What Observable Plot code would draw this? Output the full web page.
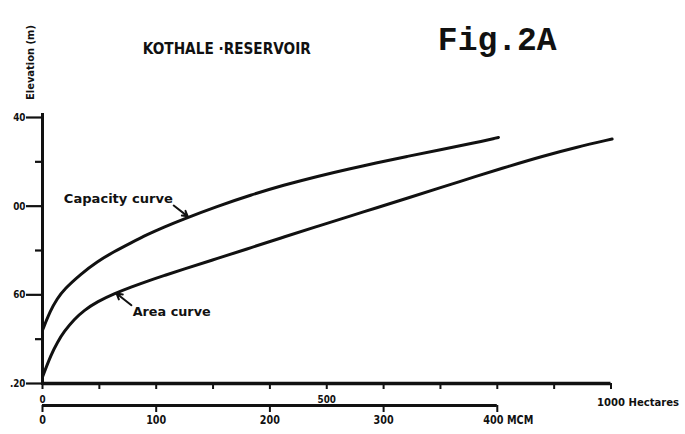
<!DOCTYPE html>
<html><head><meta charset="utf-8">
<script src="https://cdn.jsdelivr.net/npm/d3@7"></script>
<script src="https://cdn.jsdelivr.net/npm/@observablehq/plot@0.6"></script>
<style>
html,body{margin:0;padding:0;background:#fff;}
#chart svg{display:block;}
</style></head><body><div id="chart"></div>
<script>
// Capacity curve: storage (MCM) vs elevation (m)
const capacityMCM  = [0, 7, 13, 19, 34, 48, 63, 78, 92, 107, 122, 154, 183, 212, 242, 271, 292, 321, 350, 379, 401];
const capacityElev = [44, 53, 58.3, 62.5, 69.5, 75, 79.5, 83.5, 87.2, 90.6, 93.8, 100, 105, 109.5, 113.5, 117, 119.3, 122.5, 125.5, 128.4, 131];
// Area curve: surface area (hectares) vs elevation (m)
const areaHa   = [0, 15, 26, 38, 56, 73, 97, 126, 156, 185, 215, 244, 309, 367, 426, 485, 544, 585, 644, 703, 761, 820, 879, 938, 1002];
const areaElev = [23, 33, 38.5, 43.5, 49, 53, 57, 60.5, 63.5, 66.2, 68.8, 71.2, 76.5, 81.3, 86.2, 91, 95.8, 99, 103.8, 108.6, 113.3, 118, 122.5, 126.5, 130.3];

const yTicks = [20, 40, 60, 80, 100, 120, 140];
const yTickLabels = [".20", "", "60", "", "00", "", "40"];
const haTicks = [0, 100, 200, 300, 400, 500, 600, 700, 800, 900, 1000];
const haTickLabels = ["0", "", "", "", "", "500", "", "", "", "", "1000"];
const mcmTicks = [0, 100, 200, 300, 400];
const mcmTickLabels = ["0", "100", "200", "300", "400"];

const titleText = "KOTHALE ·RESERVOIR";
const figText = "Fig.2A";
const yLabelText = "Elevation (m)";
const haUnit = "Hectares";
const mcmUnit = "MCM";
const capLabel = "Capacity curve";
const areaLabel = "Area curve";

// 1000 hectares span the same length as 500 MCM on the drawing
const HA_PER_UNIT = 2;

const ink = "#111";
const font = "'DejaVu Sans',sans-serif";

const cap = capacityMCM.map((x, i) => ({x, y: capacityElev[i]}));
const area = areaHa.map((h, i) => ({x: h / HA_PER_UNIT, y: areaElev[i]}));
const yMajor = yTicks.filter((d, i) => yTickLabels[i]);
const yMinor = yTicks.filter((d, i) => !yTickLabels[i]);
const yLab = yTicks.map((v, i) => ({v, t: yTickLabels[i]})).filter(d => d.t);
const haLast = haTicks.length - 1;
const haLab = haTicks.map((v, i) => ({v: v / HA_PER_UNIT, t: haTickLabels[i]})).filter((d, i) => d.t && i !== haLast);
const mcmLast = mcmTicks.length - 1;
const mcmLab = mcmTicks.map((v, i) => ({v, t: mcmTickLabels[i]})).slice(0, mcmLast);

const chart = Plot.plot({
  width: 685, height: 434,
  marginLeft: 42, marginRight: 74.5, marginTop: 117, marginBottom: 51,
  x: {domain: [0, 500], axis: null},
  y: {domain: [20, 140], axis: null},
  style: {background: "#fff", color: ink, fontFamily: font, fontWeight: "bold", overflow: "visible"},
  marks: [
    // y axis
    Plot.ruleX([0], {y1: 140, y2: 20, stroke: ink, strokeWidth: 3, insetTop: -4, insetBottom: -2}),
    Plot.ruleY(yMajor, {y: d => d, x1: 0, x2: 0, insetLeft: -16, stroke: ink, strokeWidth: 2.2}),
    Plot.ruleY(yMinor, {y: d => d, x1: 0, x2: 0, insetLeft: -7, stroke: ink, strokeWidth: 2.2}),
    Plot.text(yLab, {x: 0, y: "v", text: "t", textAnchor: "end", dx: -17, fontSize: 11, fill: ink, className: "cond"}),
    Plot.text([yLabelText], {x: -10.5, y: 164.8, rotate: -90, fontSize: 11, fill: ink, className: "ylab"}),
    // hectares axis
    Plot.ruleY([20], {x1: 0, x2: haTicks[haLast] / HA_PER_UNIT, stroke: ink, strokeWidth: 3.5}),
    Plot.ruleX(haTicks, {x: d => d / HA_PER_UNIT, y1: 20, y2: 20, insetBottom: -6, stroke: ink, strokeWidth: 2}),
    Plot.text(haLab, {x: "v", y: 20, text: "t", dy: 16, fontSize: 11, fill: ink, className: "cond"}),
    Plot.text([haTickLabels[haLast] + " " + haUnit], {x: haTicks[haLast] / HA_PER_UNIT, y: 20, dx: -14, dy: 19, textAnchor: "start", fontSize: 10, fill: ink, className: "halab"}),
    // MCM axis
    Plot.ruleY([20], {x1: 0, x2: mcmTicks[mcmLast], dy: 22, stroke: ink, strokeWidth: 3}),
    Plot.ruleX(mcmTicks, {x: d => d, y1: 20, y2: 20, insetBottom: -7, dy: 22, stroke: ink, strokeWidth: 2}),
    Plot.text(mcmLab, {x: "v", y: 20, text: "t", dy: 37, fontSize: 12, fill: ink, className: "cond"}),
    Plot.text([mcmTickLabels[mcmLast] + " " + mcmUnit], {x: mcmTicks[mcmLast], y: 20, dx: -14, dy: 37, textAnchor: "start", fontSize: 12, fill: ink, className: "mcmlab"}),
    // curves
    Plot.line(cap, {x: "x", y: "y", curve: "basis", stroke: ink, strokeWidth: 3}),
    Plot.line(area, {x: "x", y: "y", curve: "basis", stroke: ink, strokeWidth: 3}),
    // curve labels with leaders
    Plot.text([capLabel], {x: 114.6, y: 103.5, textAnchor: "end", fontSize: 13, fill: ink, className: "caplab"}),
    Plot.arrow([{x1: 115.4, y1: 100.3, x2: 127.7, y2: 95.4}], {x1: "x1", y1: "y1", x2: "x2", y2: "y2", stroke: ink, strokeWidth: 2, headLength: 5}),
    Plot.text([areaLabel], {x: 79.3, y: 52.5, textAnchor: "start", fontSize: 13, fill: ink, className: "arealab"}),
    Plot.arrow([{x1: 78.2, y1: 55.3, x2: 65.1, y2: 60.6}], {x1: "x1", y1: "y1", x2: "x2", y2: "y2", stroke: ink, strokeWidth: 2, headLength: 6}),
    // titles
    Plot.text([titleText], {x: 88.2, y: 170.7, textAnchor: "start", fontSize: 15, fill: ink, className: "title"}),
    Plot.text([figText], {x: 347.7, y: 175.2, textAnchor: "start", fontSize: 33, fontFamily: "'Liberation Mono','DejaVu Sans Mono',monospace", fontWeight: "bold", fill: ink})
  ]
});
document.getElementById("chart").appendChild(chart);
const fit = (cls, len) => d3.select(chart).selectAll(`g.${cls} text`).attr("textLength", len).attr("lengthAdjust", "spacingAndGlyphs");
fit("title", 168);
fit("ylab", 75);
fit("caplab", 109);
fit("arealab", 78);
fit("halab", 82);
fit("mcmlab", 50);
d3.select(chart).selectAll("g.cond text").each(function() {
  const w = this.getComputedTextLength();
  this.setAttribute("textLength", (w * 0.8).toFixed(1));
  this.setAttribute("lengthAdjust", "spacingAndGlyphs");
});
</script></body></html>
